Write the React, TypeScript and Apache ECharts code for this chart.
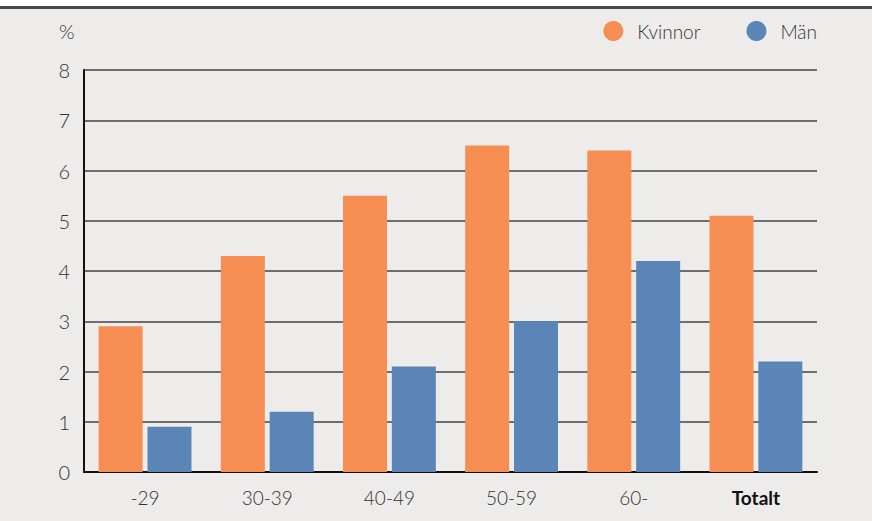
import React, { useEffect, useRef } from "react";
import * as echarts from "echarts";

const categories = ["-29", "30-39", "40-49", "50-59", "60-", "Totalt"];
const kvinnor = [2.9, 4.3, 5.5, 6.5, 6.4, 5.1];
const man = [0.9, 1.2, 2.1, 3.0, 4.2, 2.2];
const yTicks = [0, 1, 2, 3, 4, 5, 6, 7, 8];

const FONT = "Lato, 'Open Sans', sans-serif";
const ORANGE = "#f68d53";
const BLUE = "#5b84b7";
const TEXT = "#333333";

export default function App() {
  const ref = useRef<HTMLDivElement>(null);

  useEffect(() => {
    document.body.style.margin = "0";
    const chart = echarts.init(ref.current!, undefined, { renderer: "svg" });
    chart.setOption({
      animation: false,
      backgroundColor: "#edeceb",
      textStyle: { fontFamily: FONT, fontWeight: 300 },
      graphic: [
        { type: "rect", shape: { x: 0, y: 0, width: 872, height: 6 }, style: { fill: "#ffffff" } },
        { type: "rect", shape: { x: 0, y: 6, width: 872, height: 3 }, style: { fill: "#464646" } },
        {
          type: "text",
          x: 59,
          y: 21,
          style: { text: "%", font: `300 20px ${FONT}`, fill: TEXT },
        },
      ],
      legend: {
        right: 50,
        top: 16,
        icon: "circle",
        itemWidth: 20,
        itemHeight: 20,
        itemGap: 46,
        textStyle: { fontSize: 19, fontWeight: 300, color: TEXT, padding: [0, 0, 0, 9] },
        data: ["Kvinnor", "Män"],
      },
      grid: { left: 84, right: 55, top: 70, bottom: 49 },
      xAxis: {
        type: "category",
        data: categories,
        axisLine: { lineStyle: { color: "#111", width: 2 } },
        axisTick: { show: false },
        axisLabel: {
          fontSize: 19,
          fontWeight: 300,
          color: TEXT,
          margin: 16,
          formatter: (v: string) => (v === "Totalt" ? `{b|${v}}` : v),
          rich: { b: { fontWeight: "bold", fontSize: 19, color: "#111" } },
        },
      },
      yAxis: {
        type: "value",
        min: yTicks[0],
        max: yTicks[yTicks.length - 1],
        interval: 1,
        axisLine: { show: true, lineStyle: { color: "#111", width: 2 } },
        axisTick: { show: false },
        axisLabel: { fontSize: 20, fontWeight: 300, color: TEXT, margin: 14 },
        splitLine: { lineStyle: { color: "#444", width: 1.5 } },
      },
      series: [
        {
          name: "Kvinnor",
          type: "bar",
          data: kvinnor,
          barWidth: 44,
          barGap: "11%",
          itemStyle: { color: ORANGE },
        },
        {
          name: "Män",
          type: "bar",
          data: man,
          barWidth: 44,
          itemStyle: { color: BLUE },
        },
      ],
    });
    return () => chart.dispose();
  }, []);

  return <div ref={ref} style={{ width: 872, height: 521 }} />;
}
